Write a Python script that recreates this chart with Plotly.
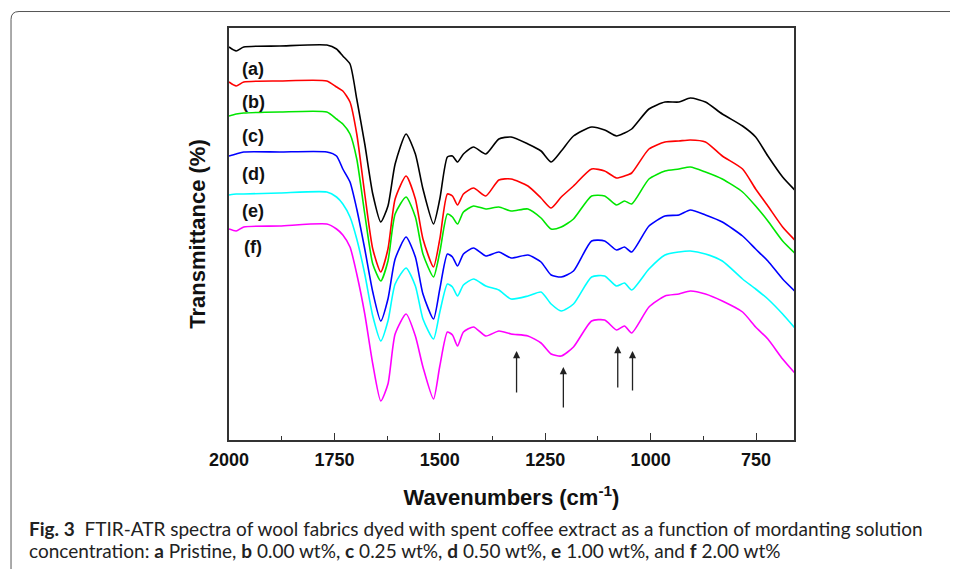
import plotly.graph_objects as go

# Wavenumber grid (cm^-1)
wavenumber = [2000, 1983, 1965, 1880, 1768, 1745, 1730, 1713, 1697, 1678,
              1659, 1640, 1623, 1606, 1580, 1558, 1540, 1515, 1500, 1482,
              1470, 1458, 1444, 1420, 1391, 1360, 1331, 1291, 1260, 1236,
              1212, 1183, 1140, 1109, 1081, 1062, 1045, 1004, 966, 933,
              906, 870, 830, 782, 751, 722, 687, 656]

# Offset transmittance (arbitrary units) of each spectrum
t_a = [393, 389, 393, 394, 395, 391, 384, 376, 341, 296,
       246, 218, 234, 276, 306, 286, 251, 216, 241, 283,
       284, 278, 286, 293, 286, 301, 303, 296, 289, 278,
       289, 304, 313, 310, 304, 307, 311, 331, 338, 338,
       342, 338, 326, 314, 303, 284, 263, 249]
t_b = [358, 354, 358, 359, 359, 353, 349, 338, 306, 246,
       191, 168, 191, 241, 264, 241, 201, 173, 201, 246,
       244, 235, 246, 252, 244, 260, 261, 254, 242, 232,
       243, 254, 271, 269, 262, 264, 267, 291, 298, 299,
       300, 298, 284, 271, 251, 234, 213, 199]
t_c = [324, 326, 327, 328, 328, 321, 316, 306, 281, 226,
       176, 159, 179, 226, 243, 223, 186, 163, 188, 226,
       223, 216, 228, 234, 231, 233, 229, 231, 222, 211,
       213, 221, 244, 244, 235, 239, 236, 261, 269, 271,
       273, 268, 261, 248, 234, 219, 199, 186]
t_d = [284, 286, 288, 288, 288, 284, 271, 258, 231, 191,
       148, 119, 141, 181, 203, 183, 146, 121, 151, 186,
       183, 174, 186, 192, 184, 188, 182, 185, 178, 165,
       163, 169, 199, 199, 190, 193, 188, 214, 224, 225,
       230, 225, 218, 204, 191, 179, 161, 148]
t_e = [245, 246, 246, 247, 248, 243, 236, 223, 201, 166,
       124, 99, 119, 156, 172, 154, 121, 101, 128, 156,
       153, 144, 155, 161, 154, 150, 141, 144, 148, 136,
       129, 136, 163, 164, 154, 157, 150, 171, 185, 188,
       189, 186, 179, 161, 151, 141, 126, 111]
t_f = [211, 209, 213, 214, 216, 211, 205, 193, 166, 126,
       76, 39, 56, 106, 126, 104, 73, 41, 74, 108,
       105, 94, 108, 113, 104, 109, 106, 104, 97, 86,
       84, 93, 119, 120, 110, 114, 107, 133, 144, 146,
       149, 146, 139, 128, 113, 101, 81, 66]

series = [t_a, t_b, t_c, t_d, t_e, t_f]
series_labels = ["(a)", "(b)", "(c)", "(d)", "(e)", "(f)"]
series_colors = ["#000000", "#ff0000", "#00e600", "#0000ff", "#00ffff", "#ff00ff"]
label_y = [371, 338, 304, 266, 229, 193]
label_x = 1943

# Arrows marking bands
arrow_wn = [1318, 1207, 1078, 1043]
arrow_tail = [46, 31, 51, 48]
arrow_head = [89, 73, 94, 89]

tick_vals = [2000, 1750, 1500, 1250, 1000, 750]
minor_tick_vals = [1875, 1625, 1375, 1125, 875]

caption_1 = "<b>Fig. 3</b>  FTIR-ATR spectra of wool fabrics dyed with spent coffee extract as a function of mordanting solution"
caption_2 = ("concentration: <b>a</b> Pristine, <b>b</b> 0.00 wt%, <b>c</b> 0.25 wt%, "
             "<b>d</b> 0.50 wt%, <b>e</b> 1.00 wt%, and <b>f</b> 2.00 wt%")

AX_FONT = "Liberation Sans, Arial, sans-serif"

fig = go.Figure()
for ys, name, col in zip(series, series_labels, series_colors):
    fig.add_trace(go.Scatter(x=wavenumber, y=ys, mode="lines", name=name,
                             line=dict(color=col, width=1.6, shape="spline", smoothing=0.6),
                             showlegend=False, hoverinfo="skip"))

ann = []
for lab, ly in zip(series_labels, label_y):
    ann.append(dict(x=label_x, y=ly, xref="x", yref="y", text="<b>" + lab + "</b>", showarrow=False,
                    font=dict(family=AX_FONT, size=18, color="#111")))
for xw, yt, yh in zip(arrow_wn, arrow_tail, arrow_head):
    ann.append(dict(x=xw, y=yh, ax=xw, ay=yt, xref="x", yref="y", axref="x", ayref="y",
                    text="", showarrow=True, arrowhead=2, arrowsize=1.1, arrowwidth=1.3,
                    arrowcolor="#222"))

cap_font = dict(family="Lato, sans-serif", size=19, color="#222")
ann.append(dict(x=-0.3575, y=-0.2136, xref="paper", yref="paper", xanchor="left", yanchor="middle",
                showarrow=False, font=cap_font, align="left", text=caption_1))
ann.append(dict(x=-0.3575, y=-0.267, xref="paper", yref="paper", xanchor="left", yanchor="middle",
                showarrow=False, font=cap_font, align="left", text=caption_2))

fig.update_layout(
    width=958, height=569,
    margin=dict(l=221, r=172, t=20, b=137),
    paper_bgcolor="white", plot_bgcolor="white",
    annotations=ann,
    shapes=[dict(type="path", xref="paper", yref="paper",
                 path="M -0.3858,-0.45 L -0.3858,1.021 Q -0.3858,1.040 -0.3716,1.040 L 1.35,1.040",
                 line=dict(color="#555", width=1))],
    xaxis=dict(range=[2000, 660], tickvals=tick_vals, ticktext=["<b>%d</b>" % v for v in tick_vals],
               ticks="inside", ticklen=7, tickwidth=1.3, tickcolor="#333", ticklabelstandoff=3,
               minor=dict(ticks="inside", ticklen=4, tickwidth=1.3, tickcolor="#333",
                          tickvals=minor_tick_vals),
               showline=True, mirror=True, linecolor="#333", linewidth=1.5,
               showgrid=False, zeroline=False,
               tickfont=dict(family=AX_FONT, size=18, color="#111"),
               title=dict(text="<b>Wavenumbers (cm<sup>-1</sup>)</b>", standoff=20,
                          font=dict(family=AX_FONT, size=22, color="#111"))),
    yaxis=dict(range=[0, 412], showticklabels=False, ticks="",
               showline=True, mirror=True, linecolor="#333", linewidth=1.5,
               showgrid=False, zeroline=False,
               title=dict(text="<b>Transmittance (%)</b>", standoff=16,
                          font=dict(family=AX_FONT, size=22, color="#111"))),
)

fig.write_html("out.html")
